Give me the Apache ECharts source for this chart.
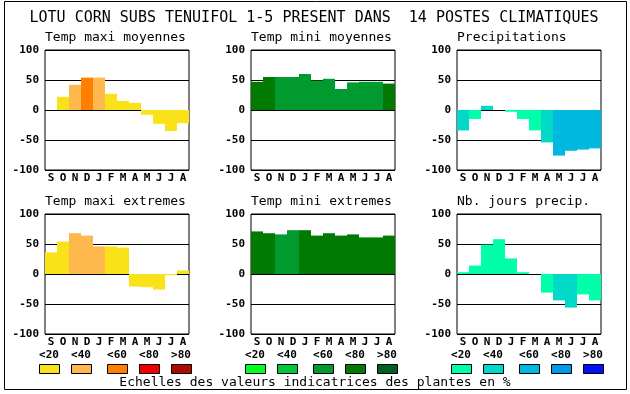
<!DOCTYPE html>
<html>
<head>
<meta charset="utf-8">
<script src="https://cdn.jsdelivr.net/npm/echarts@6/dist/echarts.min.js"></script>
<style>html,body{margin:0;padding:0;background:#fff}#c{width:630px;height:394px}</style>
</head>
<body>
<div id="c"></div>
<script>
const months = ['S','O','N','D','J','F','M','A','M','J','J','A'];
const mainTitle = 'LOTU CORN SUBS TENUIFOL 1-5 PRESENT DANS  14 POSTES CLIMATIQUES';
const footer = 'Echelles des valeurs indicatrices des plantes en %';
const classLabels = ['<20','<40','<60','<80','>80'];
const yTicks = [-100,-50,0,50,100];

const warmColors = ['#fae219','#ffb84d','#ff8000','#ee0000','#ac0c00'];
const greenColors = ['#00ff22','#00c83c','#009a2e','#007a00','#006020'];
const blueColors = ['#00ffaa','#00d8c8','#00b8e0','#0098e8','#0010f8'];

const titles = ['Temp maxi moyennes','Temp mini moyennes','Precipitations',
                'Temp maxi extremes','Temp mini extremes','Nb. jours precip.'];

const tmaxMoy      = [0, 22, 42, 54, 54, 27, 15, 12, -8, -23, -35, -22];
const tmaxMoyClass = [0, 0, 1, 2, 1, 0, 0, 0, 0, 0, 0, 0];
const tminMoy      = [47, 55, 55, 55, 60, 49, 52, 35, 46, 47, 47, 44];
const tminMoyClass = [3, 3, 2, 2, 2, 2, 2, 2, 2, 2, 2, 3];
const precip       = [-34, -15, 7, 0, -3, -15, -34, -54, -76, -68, -66, -64];
const precipClass  = [1, 0, 1, 0, 0, 0, 0, 1, 2, 2, 2, 2];
const tmaxExt      = [36, 54, 68, 64, 46, 46, 44, -21, -22, -26, -2, 6];
const tmaxExtClass = [0, 0, 1, 1, 1, 0, 0, 0, 0, 0, 0, 0];
const tminExt      = [71, 68, 66, 73, 73, 64, 68, 64, 66, 61, 61, 64];
const tminExtClass = [3, 3, 2, 2, 3, 3, 3, 3, 3, 3, 3, 3];
const nbJours      = [3, 14, 49, 58, 26, 3, 0, -31, -44, -56, -34, -44];
const nbJoursClass = [0, 0, 0, 0, 0, 0, 0, 0, 1, 1, 0, 0];

const panels = [
  {v: tmaxMoy, c: tmaxMoyClass, pal: warmColors},
  {v: tminMoy, c: tminMoyClass, pal: greenColors},
  {v: precip, c: precipClass, pal: blueColors},
  {v: tmaxExt, c: tmaxExtClass, pal: warmColors},
  {v: tminExt, c: tminExtClass, pal: greenColors},
  {v: nbJours, c: nbJoursClass, pal: blueColors}
];
const palettes = [warmColors, greenColors, blueColors];

const MONO = 'DejaVu Sans Mono';
const colLeft = [45, 251, 457];
const rowTop = [50, 214];
const W = 144, H = 120;

const grid = [], xAxis = [], yAxis = [], series = [], title = [];
panels.forEach((p, i) => {
  const col = i % 3, row = Math.floor(i / 3);
  grid.push({left: colLeft[col], top: rowTop[row], width: W, height: H,
    show: true, borderColor: '#000', borderWidth: 1, backgroundColor: 'transparent', containLabel: false});
  xAxis.push({type: 'category', gridIndex: i, data: months, boundaryGap: true,
    axisLine: {show: false}, axisTick: {show: false}, splitLine: {show: false},
    axisLabel: {interval: 0, margin: 3, color: '#000', fontFamily: MONO, fontWeight: 'bold', fontSize: 11}});
  yAxis.push({type: 'value', gridIndex: i, min: -100, max: 100, interval: 50,
    axisLine: {show: false}, axisTick: {show: false},
    splitLine: {show: true, lineStyle: {color: '#000', width: 1}},
    axisLabel: {margin: 6, color: '#000', fontFamily: MONO, fontWeight: 'bold', fontSize: 11,
      customValues: yTicks}});
  series.push({type: 'bar', xAxisIndex: i, yAxisIndex: i, barWidth: '100%', barGap: '0%',
    silent: true, animation: false,
    data: p.v.map((val, k) => ({value: val, itemStyle: {color: p.pal[p.c[k]]}}))});
  title.push({text: titles[i], left: colLeft[col], top: rowTop[row] - 19, padding: 0,
    textStyle: {fontFamily: MONO, fontWeight: 'normal', fontSize: 13, color: '#000'}});
});

const graphic = [
  {type: 'rect', shape: {x: 4.5, y: 1.5, width: 622, height: 388}, style: {fill: 'none', stroke: '#000', lineWidth: 1}, silent: true},
  {type: 'text', x: 314, y: 18, style: {text: mainTitle, font: 'normal 15px "DejaVu Sans Mono"', fill: '#000', textAlign: 'center', textVerticalAlign: 'middle'}},
  {type: 'text', x: 315, y: 383, style: {text: footer, font: 'normal 13px "DejaVu Sans Mono"', fill: '#000', textAlign: 'center', textVerticalAlign: 'middle'}}
];
const boxOffsets = [0, 32, 68, 100, 132];
palettes.forEach((pal, g) => {
  const gx = colLeft[g] - 6;
  pal.forEach((color, k) => {
    const bx = gx + boxOffsets[k];
    graphic.push({type: 'rect', shape: {x: bx + 0.5, y: 364.5, width: 20, height: 9},
      style: {fill: color, stroke: '#000', lineWidth: 1}, silent: true});
    graphic.push({type: 'text', x: bx + 10, y: 355,
      style: {text: classLabels[k], font: 'bold 11px "DejaVu Sans Mono"', fill: '#000', textAlign: 'center', textVerticalAlign: 'middle'}});
  });
});

const chart = echarts.init(document.getElementById('c'), null, {renderer: 'canvas'});
chart.setOption({animation: false, backgroundColor: '#fff', title, grid, xAxis, yAxis, series, graphic});
</script>
</body>
</html>
